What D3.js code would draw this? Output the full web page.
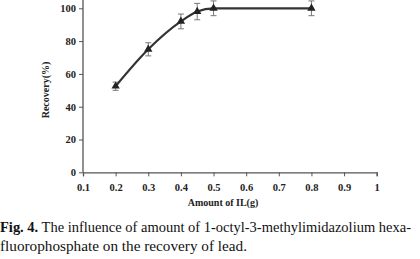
<!DOCTYPE html>
<html><head><meta charset="utf-8">
<script src="https://cdn.jsdelivr.net/npm/d3@7"></script>
<style>body{margin:0;background:#fff}svg{display:block}</style>
</head><body>
<svg id="c" width="420" height="259"></svg>
<script>
const amounts = [0.2, 0.3, 0.4, 0.45, 0.5, 0.8];
const recovery = [52.5, 75, 92, 98, 100, 100];
const errors = [2.5, 4, 4.5, 5, 4.5, 4.5];
const xTicks = [0.1, 0.2, 0.3, 0.4, 0.5, 0.6, 0.7, 0.8, 0.9, 1];
const yTicks = [0, 20, 40, 60, 80, 100];
const xTitle = "Amount of IL(g)";
const yTitle = "Recovery(%)";
const caption1 = ["Fig. 4.", " The influence of amount of 1-octyl-3-methylimidazolium hexa-"];
const caption2 = "fluorophosphate on the recovery of lead.";

const svg = d3.select("#c");
const x = d3.scaleLinear().domain([0.1, 1]).range([83, 376.7]);
const y = d3.scaleLinear().domain([0, 100]).range([172.3, 8.3]);
const serif = "Liberation Serif, serif";
const axisCol = "#555";

const gx = svg.append("g").attr("transform", `translate(0,${y(0)})`)
  .call(d3.axisBottom(x).tickValues(xTicks).tickSize(4).tickFormat(d => d3.format("")(d)));
const gy = svg.append("g").attr("transform", `translate(${x(0.1)},0)`)
  .call(d3.axisLeft(y).tickValues(yTicks).tickSize(4));
[gx, gy].forEach(g => {
  g.attr("font-family", serif).attr("font-size", 10.5).attr("font-weight", "bold");
  g.select(".domain").attr("stroke", axisCol).attr("stroke-width", 1.3);
  g.selectAll(".tick line").attr("stroke", axisCol);
  g.selectAll("text").attr("fill", "#222");
});
gy.select(".domain").attr("d", `M-0,${y(0)}V0`);
gx.selectAll("text").attr("dy", "1.15em");

// axis titles
svg.append("text").attr("x", 223).attr("y", 206).attr("text-anchor", "middle")
  .attr("font-family", serif).attr("font-weight", "bold").attr("font-size", 10)
  .attr("fill", "#222").text(xTitle);
svg.append("text").attr("transform", "translate(49,90) rotate(-90)").attr("text-anchor", "middle")
  .attr("font-family", serif).attr("font-weight", "bold").attr("font-size", 10)
  .attr("fill", "#222").text(yTitle);

const pts = amounts.map((a, i) => ({a, r: recovery[i], e: errors[i]}));

// error bars
const eb = svg.append("g").attr("stroke", "#777").attr("stroke-width", 1);
pts.forEach(p => {
  eb.append("line").attr("x1", x(p.a)).attr("x2", x(p.a)).attr("y1", y(p.r - p.e)).attr("y2", y(p.r + p.e));
  [p.r - p.e, p.r + p.e].forEach(v => eb.append("line")
    .attr("x1", x(p.a) - 3).attr("x2", x(p.a) + 3).attr("y1", y(v)).attr("y2", y(v)));
});

// line
svg.append("path").datum(pts)
  .attr("d", d3.line().x(d => x(d.a)).y(d => y(d.r)).curve(d3.curveMonotoneX))
  .attr("fill", "none").attr("stroke", "#333").attr("stroke-width", 2.2);

// markers
svg.append("g").selectAll("path").data(pts).join("path")
  .attr("transform", d => `translate(${x(d.a)},${y(d.r)})`)
  .attr("d", d3.symbol(d3.symbolTriangle, 30)).attr("fill", "#222");

// caption
const c1 = svg.append("text").attr("x", 0).attr("y", 232)
  .attr("font-family", serif).attr("font-size", 15).attr("fill", "#111")
  .attr("textLength", 411).attr("lengthAdjust", "spacingAndGlyphs");
c1.append("tspan").attr("font-weight", "bold").text(caption1[0]);
c1.append("tspan").text(caption1[1]);
svg.append("text").attr("x", 0).attr("y", 251)
  .attr("font-family", serif).attr("font-size", 15).attr("fill", "#111")
  .attr("textLength", 247).attr("lengthAdjust", "spacingAndGlyphs").text(caption2);
</script>
</body></html>
